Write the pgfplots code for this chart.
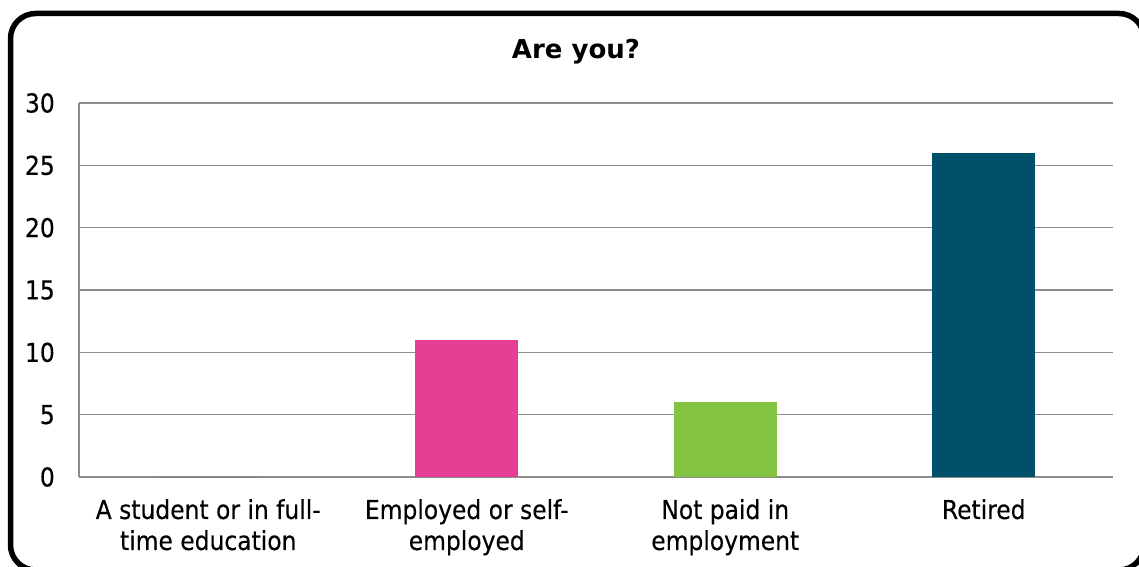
\documentclass[border=0pt]{standalone}
\usepackage{pgfplots}
\pgfplotsset{compat=1.18}
\usepackage{fontspec}
\setmainfont{DejaVu Sans}[FakeStretch=0.9, FakeBold=0.3]
\newfontfamily\titlefont{DejaVu Sans}
\definecolor{gridgray}{RGB}{140,140,140}
\definecolor{barpink}{RGB}{230,62,148}
\definecolor{bargreen}{RGB}{132,195,65}
\definecolor{barteal}{RGB}{0,80,107}

\begin{document}
\begin{tikzpicture}
\useasboundingbox (0pt,0pt) rectangle (1139pt,566pt);
\begin{axis}[
    at={(79pt,89pt)}, anchor=south west,
    scale only axis, width=1034pt, height=374pt,
    xmin=-0.5, xmax=3.5, ymin=0, ymax=30,
    ytick={0,5,...,30},
    xtick={0,1,2,3},
    xticklabels={A student or in full-\\time education, Employed or self-\\employed, Not paid in\\employment, Retired},
    axis x line*=bottom, axis y line*=left,
    axis line style={gridgray, line width=1.2pt},
    ymajorgrids, grid style={gridgray, line width=1.2pt},
    major tick length=0pt,
    /pgf/number format/assume math mode=true,
    ticklabel style={font=\fontsize{26}{31}\selectfont, text=black, inner sep=0pt},
    yticklabel style={anchor=east, xshift=-24pt},
    xticklabel style={align=center, anchor=north, yshift=-22pt},
    clip=false,
]
\addplot[ybar, bar shift=0pt, bar width=0.4, fill=barteal, draw=none] coordinates {(0,0)};
\addplot[ybar, bar shift=0pt, bar width=0.4, fill=barpink, draw=none] coordinates {(1,11)};
\addplot[ybar, bar shift=0pt, bar width=0.4, fill=bargreen, draw=none] coordinates {(2,6)};
\addplot[ybar, bar shift=0pt, bar width=0.4, fill=barteal, draw=none] coordinates {(3,26)};
\end{axis}
\node[font=\titlefont\bfseries\fontsize{26}{31}\selectfont] at (576pt,514pt) {Are you?};
\begin{scope}
\clip (0pt,0pt) rectangle (1139pt,566pt);
\draw[line width=5.5pt, rounded corners=25pt] (10.5pt,552.5pt) rectangle (1144pt,-4pt);
\end{scope}
\end{tikzpicture}
\end{document}
